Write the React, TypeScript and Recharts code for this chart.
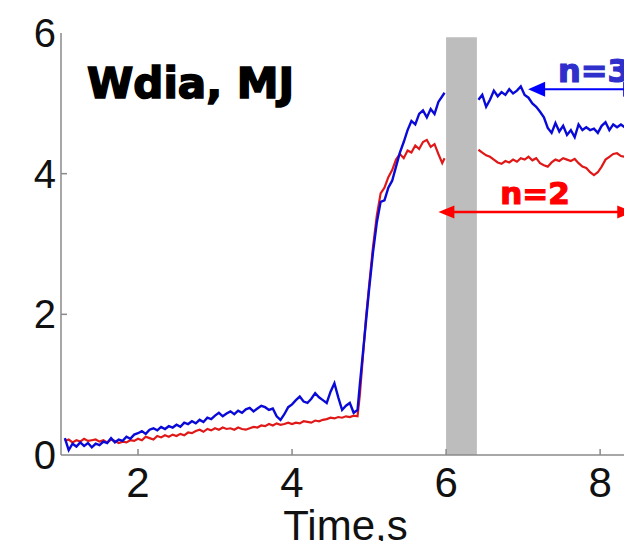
import { LineChart, Line, XAxis, YAxis, ReferenceArea, ReferenceLine } from "recharts";

// time grid (s) and stored energy traces (MJ)
const timeEarly = [
  1.05, 1.1, 1.15, 1.2, 1.25, 1.3, 1.35, 1.4, 1.45, 1.5,
  1.55, 1.6, 1.65, 1.7, 1.75, 1.8, 1.85, 1.9, 1.95, 2.0,
  2.05, 2.1, 2.15, 2.2, 2.25, 2.3, 2.35, 2.4, 2.45, 2.5,
  2.55, 2.6, 2.65, 2.7, 2.75, 2.8, 2.85, 2.9, 2.95, 3.0,
  3.05, 3.1, 3.15, 3.2, 3.25, 3.3, 3.35, 3.4, 3.45, 3.5,
  3.55, 3.6, 3.65, 3.7, 3.75, 3.8, 3.85, 3.9, 3.95, 4.0,
  4.05, 4.1, 4.15, 4.2, 4.25, 4.3, 4.35, 4.4, 4.45, 4.5,
  4.55, 4.6, 4.65, 4.7, 4.75, 4.8, 4.85
];
const blueEarly = [
  0.24, 0.07, 0.16, 0.12, 0.18, 0.13, 0.17, 0.11, 0.16, 0.14,
  0.19, 0.17, 0.24, 0.18, 0.22, 0.2, 0.26, 0.23, 0.29, 0.31,
  0.34, 0.3, 0.36, 0.38, 0.35, 0.4, 0.37, 0.41, 0.39, 0.43,
  0.4, 0.46, 0.44, 0.48, 0.45, 0.5, 0.47, 0.53, 0.51, 0.56,
  0.6, 0.55, 0.59, 0.62, 0.58, 0.63, 0.6, 0.65, 0.67, 0.62,
  0.66, 0.7, 0.68, 0.64, 0.66, 0.55, 0.5, 0.58, 0.68, 0.72,
  0.78, 0.83, 0.76, 0.74, 0.8, 0.88, 0.82, 0.78, 0.74, 0.9,
  1.02, 0.82, 0.64, 0.7, 0.74, 0.6, 0.64
];
const redEarly = [
  0.2, 0.22, 0.18, 0.21, 0.19, 0.23, 0.2, 0.21, 0.22, 0.19,
  0.21, 0.18, 0.22, 0.2, 0.17, 0.19, 0.18, 0.21, 0.2, 0.23,
  0.21, 0.26, 0.24, 0.22, 0.27, 0.25, 0.28, 0.26, 0.29, 0.27,
  0.3, 0.28, 0.32, 0.31, 0.34, 0.36, 0.33, 0.37, 0.35, 0.38,
  0.36, 0.39, 0.37, 0.38, 0.36, 0.39, 0.37, 0.36, 0.38, 0.4,
  0.39, 0.42, 0.41, 0.44, 0.42, 0.45, 0.43, 0.44, 0.46, 0.44,
  0.46, 0.45, 0.48, 0.47, 0.46, 0.49, 0.48, 0.5, 0.51, 0.53,
  0.52, 0.54, 0.53, 0.55, 0.54, 0.56, 0.55
];

const timeRise = [4.88, 4.92, 4.96, 5.0, 5.05, 5.1, 5.15, 5.2, 5.25];
const blueRise = [1.0, 1.45, 1.9, 2.35, 2.87, 3.3, 3.6, 3.62, 3.8];
const redRise = [0.85, 1.4, 1.95, 2.4, 2.95, 3.4, 3.72, 3.8, 3.95];

const timePlateau = [5.3, 5.35, 5.4, 5.45, 5.5, 5.55, 5.6, 5.65, 5.7, 5.75, 5.8, 5.85, 5.9, 5.95, 5.98];
const bluePlateau = [3.9, 4.1, 4.3, 4.45, 4.62, 4.75, 4.7, 4.85, 4.9, 4.8, 4.92, 4.85, 5.02, 5.1, 5.15];
const redPlateau = [4.05, 4.2, 4.28, 4.22, 4.33, 4.3, 4.4, 4.35, 4.45, 4.48, 4.38, 4.42, 4.28, 4.15, 4.22];

const timeLate = [
  6.42, 6.47, 6.52, 6.57, 6.62, 6.67, 6.72, 6.77, 6.82, 6.87,
  6.92, 6.97, 7.02, 7.07, 7.12, 7.17, 7.22, 7.27, 7.32, 7.37,
  7.42, 7.47, 7.52, 7.57, 7.62, 7.67, 7.72, 7.77, 7.82, 7.87,
  7.92, 7.97, 8.02, 8.07, 8.12, 8.17, 8.22, 8.27, 8.32
];
const blueLate = [
  5.05, 5.12, 4.95, 5.05, 5.18, 5.1, 5.16, 5.12, 5.2, 5.14,
  5.18, 5.24, 5.12, 5.08, 5.0, 4.95, 4.88, 4.8, 4.65, 4.58,
  4.72, 4.6, 4.68, 4.55, 4.62, 4.52, 4.7, 4.62, 4.66, 4.62,
  4.64, 4.58, 4.68, 4.73, 4.62, 4.7, 4.66, 4.7, 4.66
];
const redLate = [
  4.34, 4.3, 4.26, 4.24, 4.2, 4.16, 4.14, 4.18, 4.16, 4.2,
  4.17, 4.22, 4.2, 4.24, 4.19, 4.22, 4.15, 4.12, 4.1, 4.16,
  4.2, 4.18, 4.22, 4.2, 4.18, 4.21, 4.15, 4.1, 4.08, 4.02,
  3.98, 4.02, 4.1, 4.2, 4.24, 4.28, 4.29, 4.25, 4.24
];

const xTicks = [2, 4, 6, 8];
const yTicks = [0, 2, 4, 6];
const band = { from: 6.0, to: 6.4, top: 5.94 };
const arrowN2 = { from: 5.9, to: 8.43, y: 3.455 };
const arrowN3 = { from: 7.065, to: 8.52, y: 5.2 };

const gapTime = 6.2; // hidden behind the gray band

const data = [
  ...timeEarly.map((t, i) => ({ t, blue: blueEarly[i], red: redEarly[i] })),
  ...timeRise.map((t, i) => ({ t, blue: blueRise[i], red: redRise[i] })),
  ...timePlateau.map((t, i) => ({ t, blue: bluePlateau[i], red: redPlateau[i] })),
  { t: gapTime, blue: null, red: null },
  ...timeLate.map((t, i) => ({ t, blue: blueLate[i], red: redLate[i] }))
];

const AXIS = "#8a8a8a";
const FONT = "'Liberation Sans', Arial, sans-serif";
const BOLD = "'DejaVu Sans', sans-serif";

const BottomTick = (props: any) => {
  const { x, y, payload } = props;
  return (
    <g>
      <line x1={x} x2={x} y1={y} y2={y - 6} stroke={AXIS} strokeWidth={1.5} />
      <text x={x} y={y + 42} textAnchor="middle" fontSize={42} fontFamily={FONT} fill="#111">
        {payload.value}
      </text>
    </g>
  );
};

const TopTick = (props: any) => {
  const { x, y } = props;
  return <line x1={x} x2={x} y1={y} y2={y + 6} stroke={AXIS} strokeWidth={1.5} />;
};

const LeftTick = (props: any) => {
  const { x, y, payload } = props;
  return (
    <g>
      {payload.value !== 0 && payload.value !== 6 && (
        <line x1={x} x2={x + 6} y1={y} y2={y} stroke={AXIS} strokeWidth={1.5} />
      )}
      <text x={x - 5} y={y + 14} textAnchor="end" fontSize={40} fontFamily={FONT} fill="#111">
        {payload.value}
      </text>
    </g>
  );
};

const arrow = (color: string, width: number, len: number, half: number) => (p: any) => {
  const { x1, y1, x2 } = p;
  const left = Math.min(x1, x2);
  const right = Math.max(x1, x2);
  return (
    <g>
      <line x1={left + len - 2} x2={right - len + 2} y1={y1} y2={y1} stroke={color} strokeWidth={width} />
      <polygon points={`${left},${y1} ${left + len},${y1 - half} ${left + len},${y1 + half}`} fill={color} />
      <polygon points={`${right},${y1} ${right - len},${y1 - half} ${right - len},${y1 + half}`} fill={color} />
    </g>
  );
};

export default function App() {
  return (
    <div style={{ position: "absolute", left: 0, top: 0, width: 624, height: 541, overflow: "hidden", background: "#fff" }}>
      <LineChart width={624} height={541} data={data} margin={{ top: 33, right: 0, bottom: 0, left: 0 }}>
        <XAxis
          dataKey="t"
          type="number"
          domain={[1, 8.31]}
          allowDataOverflow
          ticks={xTicks}
          tick={<BottomTick />}
          tickLine={false}
          tickSize={0}
          tickMargin={0}
          height={86}
          axisLine={{ stroke: AXIS, strokeWidth: 1.5 }}
          label={{ value: "Time,s", position: "insideBottom", offset: 1, fontSize: 42, fontFamily: FONT, fill: "#111", dx: 3 }}
        />
        <XAxis
          xAxisId="top"
          orientation="top"
          dataKey="t"
          type="number"
          domain={[1, 8.31]}
          allowDataOverflow
          ticks={[2, 4, 6]}
          tick={<TopTick />}
          tickLine={false}
          tickSize={0}
          tickMargin={0}
          height={0}
          axisLine={{ stroke: AXIS, strokeWidth: 1.5 }}
        />
        <YAxis
          type="number"
          domain={[0, 6]}
          ticks={yTicks}
          tick={<LeftTick />}
          tickLine={false}
          tickSize={0}
          tickMargin={0}
          width={61}
          axisLine={{ stroke: AXIS, strokeWidth: 1.5 }}
        />
        <Line type="linear" dataKey="red" stroke="#e01818" strokeWidth={2.2} dot={false} isAnimationActive={false} />
        <Line type="linear" dataKey="blue" stroke="#0a0ad8" strokeWidth={2.4} dot={false} isAnimationActive={false} />
        <ReferenceArea x1={band.from} x2={band.to} y1={0} y2={band.top} fill="#bdbdbd" fillOpacity={1} stroke="none" />
        <ReferenceLine
          segment={[{ x: arrowN2.from, y: arrowN2.y }, { x: arrowN2.to, y: arrowN2.y }]}
          ifOverflow="visible"
          shape={arrow("#ff0000", 2.5, 16, 6.5)}
        />
        <ReferenceLine
          segment={[{ x: arrowN3.from, y: arrowN3.y }, { x: arrowN3.to, y: arrowN3.y }]}
          ifOverflow="visible"
          shape={arrow("#0000ff", 2.2, 17, 7.5)}
        />
      </LineChart>
      <svg width={624} height={541} style={{ position: "absolute", left: 0, top: 0, pointerEvents: "none" }}>
        <text x={87} y={98} fontSize={42} fontWeight="bold" fontFamily={BOLD} fill="#000" stroke="#000" strokeWidth={1.6}>
          Wdia, MJ
        </text>
        <text x={535} y={204} textAnchor="middle" fontSize={31} fontWeight="bold" fontFamily={BOLD} fill="#ff0000" stroke="#ff0000" strokeWidth={1.2}>
          n=2
        </text>
        <text x={558} y={82} fontSize={32} fontWeight="bold" fontFamily={BOLD} fill="#2f2fcc" stroke="#2f2fcc" strokeWidth={1.2}>
          n=3
        </text>
      </svg>
    </div>
  );
}
